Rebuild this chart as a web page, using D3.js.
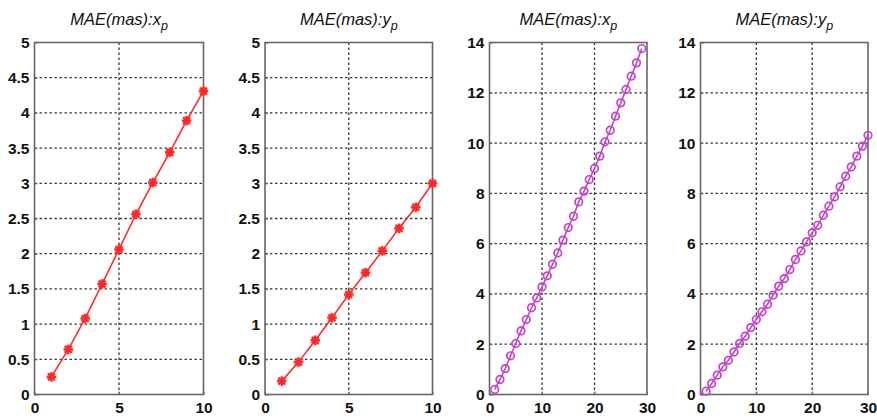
<!DOCTYPE html>
<html><head><meta charset="utf-8">
<script src="https://cdn.jsdelivr.net/npm/d3@7"></script>
<style>
html,body{margin:0;padding:0;background:#fff;}
svg text{font-family:"Liberation Sans",Arial,sans-serif;}
</style></head>
<body>
<svg id="chart" width="877" height="419"></svg>
<script>
// ---- data ----
const titles = ["MAE(mas):x", "MAE(mas):y", "MAE(mas):x", "MAE(mas):y"];
const titleSubs = ["p", "p", "p", "p"];

const stepsShort = [1,2,3,4,5,6,7,8,9,10];
const maeXpShort = [0.25,0.64,1.08,1.57,2.06,2.56,3.01,3.44,3.89,4.31];
const maeYpShort = [0.19,0.46,0.77,1.09,1.42,1.73,2.04,2.36,2.66,3.00];

const stepsLongX = [1,2,3,4,5,6,7,8,9,10,11,12,13,14,15,16,17,18,19,20,21,22,23,24,25,26,27,28,29];
const maeXpLong = [0.20,0.60,1.03,1.54,2.03,2.53,2.98,3.45,3.84,4.28,4.72,5.18,5.63,6.14,6.64,7.09,
                   7.66,8.09,8.55,8.99,9.48,10.05,10.51,11.07,11.60,12.13,12.66,13.19,13.76];

const stepsLongY = [1,2,3,4,5,6,7,8,9,10,11,12,13,14,15,16,17,18,19,20,21,22,23,24,25,26,27,28,29,30];
const maeYpLong = [0.13,0.44,0.77,1.10,1.36,1.69,2.03,2.32,2.66,2.98,3.29,3.59,3.95,4.31,4.61,4.97,
                   5.37,5.71,6.07,6.43,6.73,7.13,7.49,7.86,8.26,8.68,9.05,9.48,9.88,10.31];

const xTicksShort = [0,5,10];
const yTicksShort = [0,0.5,1,1.5,2,2.5,3,3.5,4,4.5,5];
const yTickLabelsShort = ["0","0.5","1","1.5","2","2.5","3","3.5","4","4.5","5"];
const xTicksLong = [0,10,20,30];
const yTicksLong = [0,2,4,6,8,10,12,14];

// ---- layout ----
const panels = [
  {x0:34.5, x1:203.5, xDom:[0,10], yDom:[0,5], xT:xTicksShort, yT:yTicksShort, yL:yTickLabelsShort, xs:stepsShort, ys:maeXpShort, kind:"star"},
  {x0:265, x1:432.5, xDom:[0,10], yDom:[0,5], xT:xTicksShort, yT:yTicksShort, yL:yTickLabelsShort, xs:stepsShort, ys:maeYpShort, kind:"star"},
  {x0:489.5, x1:647, xDom:[0,30], yDom:[0,14], xT:xTicksLong, yT:yTicksLong, yL:yTicksLong.map(String), xs:stepsLongX, ys:maeXpLong, kind:"circle"},
  {x0:700.5, x1:868, xDom:[0,30], yDom:[0,14], xT:xTicksLong, yT:yTicksLong, yL:yTicksLong.map(String), xs:stepsLongY, ys:maeYpLong, kind:"circle"}
];
const plotTop = 42.5, plotBottom = 394.5;
const red = "#ff2a2a", magenta = "#c344c8";

const svg = d3.select("#chart");

panels.forEach((p, i) => {
  const x = d3.scaleLinear().domain(p.xDom).range([p.x0, p.x1]);
  const y = d3.scaleLinear().domain(p.yDom).range([plotBottom, plotTop]);
  const g = svg.append("g");

  // grid
  const gridStyle = s => s.attr("stroke", "#333").attr("stroke-width", 1.3).attr("stroke-dasharray", "2.4,2.6");
  g.selectAll(".gx").data(p.xT.slice(1, -1)).join("line")
    .attr("x1", d => x(d)).attr("x2", d => x(d)).attr("y1", plotTop).attr("y2", plotBottom).call(gridStyle);
  g.selectAll(".gy").data(p.yT.slice(1, -1)).join("line")
    .attr("x1", p.x0).attr("x2", p.x1).attr("y1", d => y(d)).attr("y2", d => y(d)).call(gridStyle);

  // axes via d3 axis (inward ticks)
  const ax = g.append("g").attr("transform", `translate(0,${plotBottom})`)
    .call(d3.axisBottom(x).tickValues(p.xT).tickSizeInner(-3).tickSizeOuter(0).tickPadding(7));
  const ay = g.append("g").attr("transform", `translate(${p.x0},0)`)
    .call(d3.axisLeft(y).tickValues(p.yT).tickFormat((d, k) => p.yL[k]).tickSizeInner(-3).tickSizeOuter(0).tickPadding(5));
  [ax, ay].forEach(a => {
    a.select(".domain").remove();
    a.selectAll(".tick line").attr("stroke", "#666");
    a.selectAll(".tick text").attr("fill", "#111").attr("font-size", 15.5).attr("font-weight", "bold");
  });
  ax.selectAll(".tick text").attr("dy", "0.71em");

  // box
  g.append("rect").attr("x", p.x0).attr("y", plotTop).attr("width", p.x1 - p.x0).attr("height", plotBottom - plotTop)
    .attr("fill", "none").attr("stroke", "#666").attr("stroke-width", 1.6);

  // line
  const pts = p.xs.map((d, k) => [d, p.ys[k]]);
  const col = p.kind === "star" ? red : magenta;
  g.append("path").datum(pts)
    .attr("d", d3.line().x(d => x(d[0])).y(d => y(d[1])))
    .attr("fill", "none").attr("stroke", col).attr("stroke-width", 1.6);

  if (p.kind === "star") {
    const r = 4.8;
    const arms = [[0, r], [r, 0], [r*0.72, r*0.72], [r*0.72, -r*0.72]];
    const mg = g.selectAll(".m").data(pts).join("g")
      .attr("transform", d => `translate(${x(d[0])},${y(d[1])})`);
    arms.forEach(a => {
      mg.append("line").attr("x1", -a[0]).attr("y1", -a[1]).attr("x2", a[0]).attr("y2", a[1])
        .attr("stroke", col).attr("stroke-width", 2.5);
    });
    mg.append("circle").attr("r", 2.6).attr("fill", col);
  } else {
    g.selectAll(".m").data(pts).join("circle")
      .attr("cx", d => x(d[0])).attr("cy", d => y(d[1])).attr("r", 3.8)
      .attr("fill", "none").attr("stroke", col).attr("stroke-width", 1.7);
  }

  // title
  const t = g.append("text").attr("x", (p.x0 + p.x1) / 2).attr("y", 25)
    .attr("text-anchor", "middle").attr("font-size", 16.5).attr("font-style", "italic").attr("fill", "#111");
  t.append("tspan").text(titles[i]);
  t.append("tspan").attr("dy", 5).attr("font-size", 12.5).text(titleSubs[i]);
});
</script>
</body></html>
